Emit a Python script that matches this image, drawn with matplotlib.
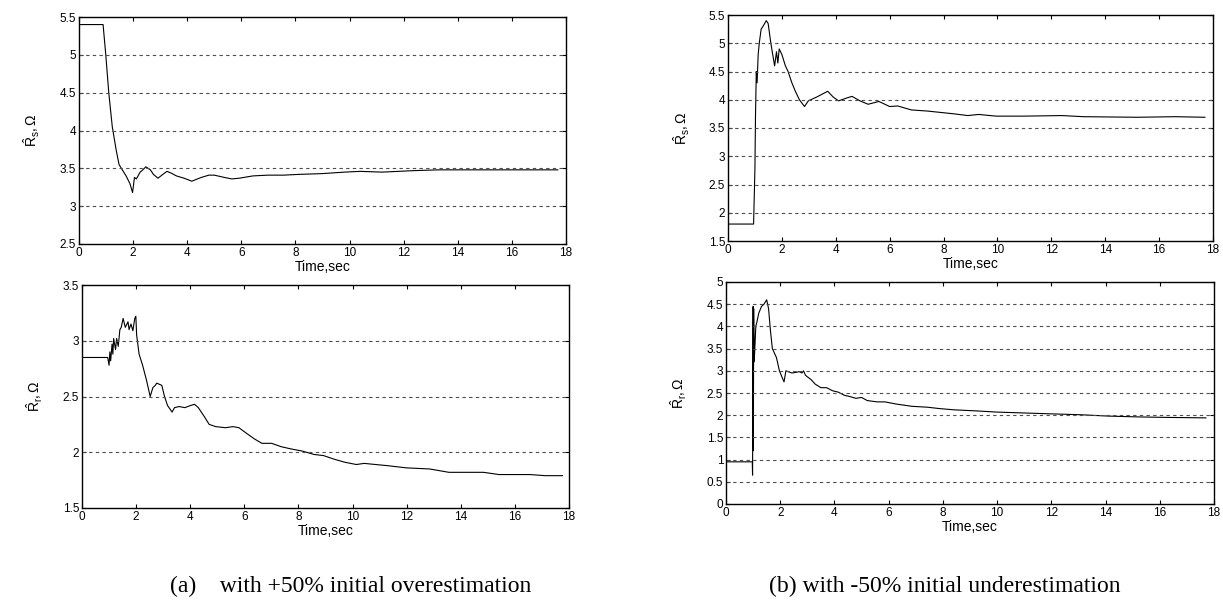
import matplotlib
matplotlib.use("Agg")
import matplotlib.pyplot as plt

# Estimated stator / rotor resistance, +50% initial overestimation
t_a_rs = [0, 0.89, 0.99, 1.1, 1.23, 1.37, 1.48, 1.6, 1.74, 1.88, 1.98, 2.05, 2.12, 2.26, 2.36,
          2.47, 2.64, 2.75, 2.92, 3.1, 3.25, 3.39, 3.6, 3.88, 4.17, 4.31, 4.52, 4.8, 5.0, 5.37,
          5.65, 5.93, 6.43, 6.99, 7.56, 8.12, 8.97, 9.82, 10.4, 11.2, 12.4, 13.3, 15.5, 17.7]
a_rs = [5.4, 5.4, 5.0, 4.5, 4.05, 3.75, 3.55, 3.48, 3.4, 3.3, 3.18, 3.38, 3.36, 3.45, 3.48,
        3.52, 3.48, 3.42, 3.37, 3.42, 3.46, 3.44, 3.4, 3.37, 3.33, 3.35, 3.38, 3.41, 3.41, 3.38,
        3.36, 3.37, 3.4, 3.41, 3.41, 3.42, 3.43, 3.45, 3.46, 3.45, 3.47, 3.48, 3.48, 3.48]

t_a_rr = [0, 0.95, 1.0, 1.03, 1.06, 1.11, 1.14, 1.17, 1.24, 1.28, 1.34, 1.4, 1.45, 1.52, 1.6,
          1.7, 1.74, 1.81, 1.88, 1.95, 1.99, 2.02, 2.11, 2.24, 2.38, 2.52, 2.62, 2.71, 2.76,
          2.95, 3.05, 3.16, 3.33, 3.42, 3.59, 3.8, 4.02, 4.16, 4.3, 4.52, 4.7, 4.94, 5.3, 5.58,
          5.8, 6.08, 6.37, 6.65, 7.01, 7.36, 7.72, 8.15, 8.58, 8.93, 9.29, 9.72, 10.14, 10.43,
          10.85, 11.28, 11.99, 12.85, 13.56, 14.84, 15.41, 16.55, 17.12, 17.76]
a_rr = [2.85, 2.85, 2.78, 2.9, 2.82, 2.97, 2.88, 3.02, 2.92, 3.02, 2.95, 3.1, 3.12, 3.2, 3.12,
        3.17, 3.1, 3.15, 3.09, 3.2, 3.22, 3.05, 2.88, 2.78, 2.65, 2.5, 2.58, 2.6, 2.62,
        2.6, 2.5, 2.42, 2.36, 2.4, 2.41, 2.4, 2.42, 2.43, 2.4, 2.32, 2.25, 2.23, 2.22, 2.23,
        2.22, 2.17, 2.12, 2.08, 2.08, 2.05, 2.03, 2.01, 1.98, 1.97, 1.94, 1.91, 1.89, 1.9,
        1.89, 1.88, 1.86, 1.85, 1.82, 1.82, 1.8, 1.8, 1.79, 1.79]

# Same estimates, -50% initial underestimation
t_b_rs = [0, 0.95, 1.0, 1.02, 1.05, 1.08, 1.12, 1.16, 1.23, 1.3, 1.42, 1.49, 1.59, 1.66, 1.73,
          1.8, 1.85, 1.9, 2.0, 2.13, 2.23, 2.37, 2.5, 2.65, 2.84, 2.98, 3.3, 3.7, 3.9, 4.1,
          4.4, 4.6, 4.9, 5.2, 5.6, 6.0, 6.3, 6.8, 7.4, 8.0, 8.4, 8.9, 9.3, 9.95, 10.95, 12.4,
          13.2, 15.2, 16.6, 17.7]
b_rs = [1.8, 1.8, 2.8, 3.7, 4.5, 4.3, 4.8, 5.0, 5.25, 5.3, 5.4, 5.35, 5.0, 4.8, 4.6,
        4.85, 4.65, 4.9, 4.8, 4.6, 4.5, 4.3, 4.15, 4.0, 3.88, 3.98, 4.05, 4.15, 4.05, 3.98,
        4.03, 4.06, 3.98, 3.92, 3.97, 3.88, 3.89, 3.82, 3.8, 3.77, 3.75, 3.72, 3.74, 3.71, 3.71, 3.72,
        3.7, 3.69, 3.7, 3.69]

t_b_rr = [0, 0.97, 0.98, 1.0, 1.01, 1.02, 1.04, 1.1, 1.14, 1.21, 1.31, 1.4, 1.5, 1.57, 1.64,
          1.71, 1.86, 1.97, 2.07, 2.14, 2.21, 2.43, 2.71, 2.8, 2.86, 2.93, 3.14, 3.29, 3.5, 3.71,
          3.93, 4.14, 4.36, 4.57, 4.79, 5.0, 5.21, 5.57, 5.86, 6.29, 6.86, 7.43, 7.86, 8.43,
          9.14, 10.0, 11.0, 12.0, 13.1, 14.1, 15.3, 16.3, 17.7]
b_rr = [0.95, 0.95, 0.65, 4.45, 1.2, 4.4, 3.2, 4.0, 4.1, 4.3, 4.45, 4.5, 4.6, 4.4, 3.9,
        3.5, 3.3, 3.0, 2.85, 2.75, 3.0, 2.95, 2.98, 2.95, 3.0, 2.9, 2.8, 2.7, 2.62, 2.62,
        2.55, 2.52, 2.45, 2.42, 2.38, 2.4, 2.33, 2.3, 2.3, 2.25, 2.2, 2.18, 2.15, 2.12,
        2.1, 2.07, 2.05, 2.03, 2.01, 1.98, 1.96, 1.95, 1.94]

x_ticks = list(range(0, 19, 2))

W, H = 1223, 601
fig = plt.figure(figsize=(W / 100, H / 100), dpi=100)
plt.rcParams['font.family'] = ['Liberation Sans', 'DejaVu Sans']
plt.rcParams['mathtext.fontset'] = 'custom'
plt.rcParams['mathtext.rm'] = 'Liberation Sans'
plt.rcParams['mathtext.it'] = 'Liberation Sans'


def px_axes(left, right, top, bottom):
    return fig.add_axes([left / W, (H - bottom) / H, (right - left) / W, (bottom - top) / H])


def panel(ax, t, y, ylim, ystep, ylabel):
    ax.plot(t, y, color='black', lw=0.8)
    ax.set_xlim(0, 18)
    ax.set_ylim(*ylim)
    ax.set_xticks(x_ticks)
    n = int(round((ylim[1] - ylim[0]) / ystep))
    yt = [ylim[0] + i * ystep for i in range(n + 1)]
    ax.set_yticks(yt)
    ax.set_yticklabels(['%g' % v for v in yt])
    ax.tick_params(direction='in', length=3, width=0.8, top=True, right=True,
                   labelsize=8.5, pad=2)
    for v in yt[1:-1]:
        ax.axhline(v, color='0.3', lw=0.8, ls=(0, (3, 3)))
    for s in ax.spines.values():
        s.set_linewidth(1.0)
    ax.set_xlabel('Time,sec', fontsize=10, labelpad=1)
    ax.set_ylabel(ylabel, fontsize=10)
    ax.yaxis.set_label_coords(-0.075, 0.5)


ax1 = px_axes(79, 566, 17, 244)
panel(ax1, t_a_rs, a_rs, (2.5, 5.5), 0.5, r'$\hat{\mathrm{R}}_{\mathrm{s}},\Omega$')
ax2 = px_axes(82, 569, 285, 508)
panel(ax2, t_a_rr, a_rr, (1.5, 3.5), 0.5, r'$\hat{\mathrm{R}}_{\mathrm{r}},\Omega$')
ax3 = px_axes(728, 1213, 15, 241)
panel(ax3, t_b_rs, b_rs, (1.5, 5.5), 0.5, r'$\hat{\mathrm{R}}_{\mathrm{s}},\Omega$')
ax4 = px_axes(726, 1214, 282, 504)
panel(ax4, t_b_rr, b_rr, (0, 5), 0.5, r'$\hat{\mathrm{R}}_{\mathrm{r}},\Omega$')

fig.text(351 / W, (H - 586) / H, '(a)    with +50% initial overestimation',
         family='Liberation Serif', fontsize=17, ha='center', va='center')
fig.text(945 / W, (H - 586) / H, '(b) with -50% initial underestimation',
         family='Liberation Serif', fontsize=17, ha='center', va='center')

fig.savefig('out.png', dpi=100)
